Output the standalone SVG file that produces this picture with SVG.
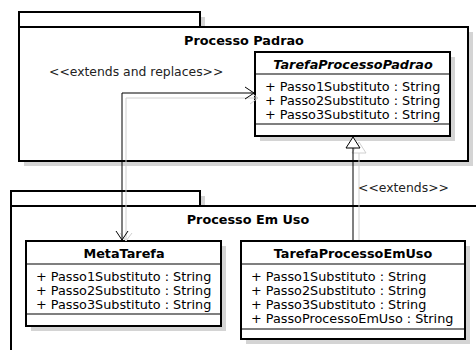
<svg xmlns="http://www.w3.org/2000/svg" width="476" height="350" viewBox="0 0 476 350">
  <defs>
    <style>
      .frame { fill: #fff; stroke: #000; stroke-width: 2; }
      .shadow { fill: #d4d4d4; stroke: none; }
      .sep { stroke: #000; stroke-width: 1.2; }
      .t { font-family: "DejaVu Sans", sans-serif; font-size: 12.8px; fill: #000; }
      .b { font-weight: bold; }
      .i { font-style: italic; }
      .mid { text-anchor: middle; }
      .conn { fill: none; stroke: #000; stroke-width: 1; }
      .conn-sh { fill: none; stroke: #d0d0d0; stroke-width: 1; }
      .lbl { font-family: "DejaVu Sans", sans-serif; font-size: 12.4px; fill: #222; }
    </style>
  </defs>
  <rect width="476" height="350" fill="#fff"/>

  <!-- package: Processo Padrao -->
  <g id="pkg-processo-padrao">
    <rect class="shadow" x="24" y="17" width="181" height="15"/>
    <rect class="shadow" x="24" y="32" width="449" height="134"/>
    <rect class="frame" x="19" y="12" width="181" height="15"/>
    <rect class="frame" x="19" y="27" width="449" height="134"/>
    <text class="t b mid" x="244" y="45">Processo Padrao</text>
  </g>

  <!-- package: Processo Em Uso -->
  <g id="pkg-processo-em-uso">
    <rect class="shadow" x="16" y="196" width="189" height="15"/>
    <rect class="shadow" x="16" y="211" width="470" height="150"/>
    <rect class="frame" x="11" y="191" width="189" height="15"/>
    <rect class="frame" x="11" y="206" width="475" height="150"/>
    <text class="t b mid" x="248" y="224">Processo Em Uso</text>
  </g>

  <!-- class: TarefaProcessoPadrao -->
  <g id="cls-tarefa-processo-padrao">
    <rect class="shadow" x="260" y="57" width="195" height="84"/>
    <rect class="frame" x="255" y="52" width="195" height="84"/>
    <line class="sep" x1="255" y1="74" x2="450" y2="74"/>
    <line class="sep" x1="255" y1="124" x2="450" y2="124"/>
    <text class="t b i mid" x="353" y="69">TarefaProcessoPadrao</text>
    <text class="t" x="265" y="90.5">+ Passo1Substituto : String</text>
    <text class="t" x="265" y="104.5">+ Passo2Substituto : String</text>
    <text class="t" x="265" y="118.5">+ Passo3Substituto : String</text>
  </g>

  <!-- class: MetaTarefa -->
  <g id="cls-meta-tarefa">
    <rect class="shadow" x="31" y="246" width="195" height="85"/>
    <rect class="frame" x="26" y="241" width="195" height="85"/>
    <line class="sep" x1="26" y1="264" x2="221" y2="264"/>
    <line class="sep" x1="26" y1="314" x2="221" y2="314"/>
    <text class="t b mid" x="124" y="258">MetaTarefa</text>
    <text class="t" x="36" y="280.5">+ Passo1Substituto : String</text>
    <text class="t" x="36" y="294.5">+ Passo2Substituto : String</text>
    <text class="t" x="36" y="308.5">+ Passo3Substituto : String</text>
  </g>

  <!-- class: TarefaProcessoEmUso -->
  <g id="cls-tarefa-processo-em-uso">
    <rect class="shadow" x="246" y="246" width="224" height="98"/>
    <rect class="frame" x="241" y="241" width="224" height="98"/>
    <line class="sep" x1="241" y1="264" x2="465" y2="264"/>
    <line class="sep" x1="241" y1="329" x2="465" y2="329"/>
    <text class="t b mid" x="353" y="258">TarefaProcessoEmUso</text>
    <text class="t" x="251" y="280.5">+ Passo1Substituto : String</text>
    <text class="t" x="251" y="294.5">+ Passo2Substituto : String</text>
    <text class="t" x="251" y="308.5">+ Passo3Substituto : String</text>
    <text class="t" x="251" y="322.5">+ PassoProcessoEmUso : String</text>
  </g>

  <!-- connectors -->
  <g id="connectors">
    <!-- extends and replaces: shadow -->
    <g transform="translate(4,5)">
      <polyline class="conn-sh" points="122,236 122,93 254,93"/>
      <polyline class="conn-sh" points="116,228 122,236 128,228"/>
      <polyline class="conn-sh" points="246,87 254,93 246,99"/>
    </g>
    <!-- extends and replaces -->
    <polyline class="conn" points="122,240 122,93 254,93"/>
    <polyline class="conn" points="116,231 122,240 128,231"/>
    <polyline class="conn" points="245,87 254,93 245,99"/>
    <text class="lbl" x="49" y="75.5">&lt;&lt;extends and replaces&gt;&gt;</text>

    <!-- extends: shadow -->
    <line class="conn-sh" x1="359" y1="240" x2="359" y2="153"/>
    <polygon class="conn-sh" points="359,142 366,153 352,153"/>
    <!-- extends -->
    <line class="conn" x1="353" y1="240" x2="353" y2="148"/>
    <polygon points="353,137 360,148 346,148" fill="#fff" stroke="#000" stroke-width="1"/>
    <text class="lbl" x="358" y="191.5">&lt;&lt;extends&gt;&gt;</text>
  </g>
</svg>
